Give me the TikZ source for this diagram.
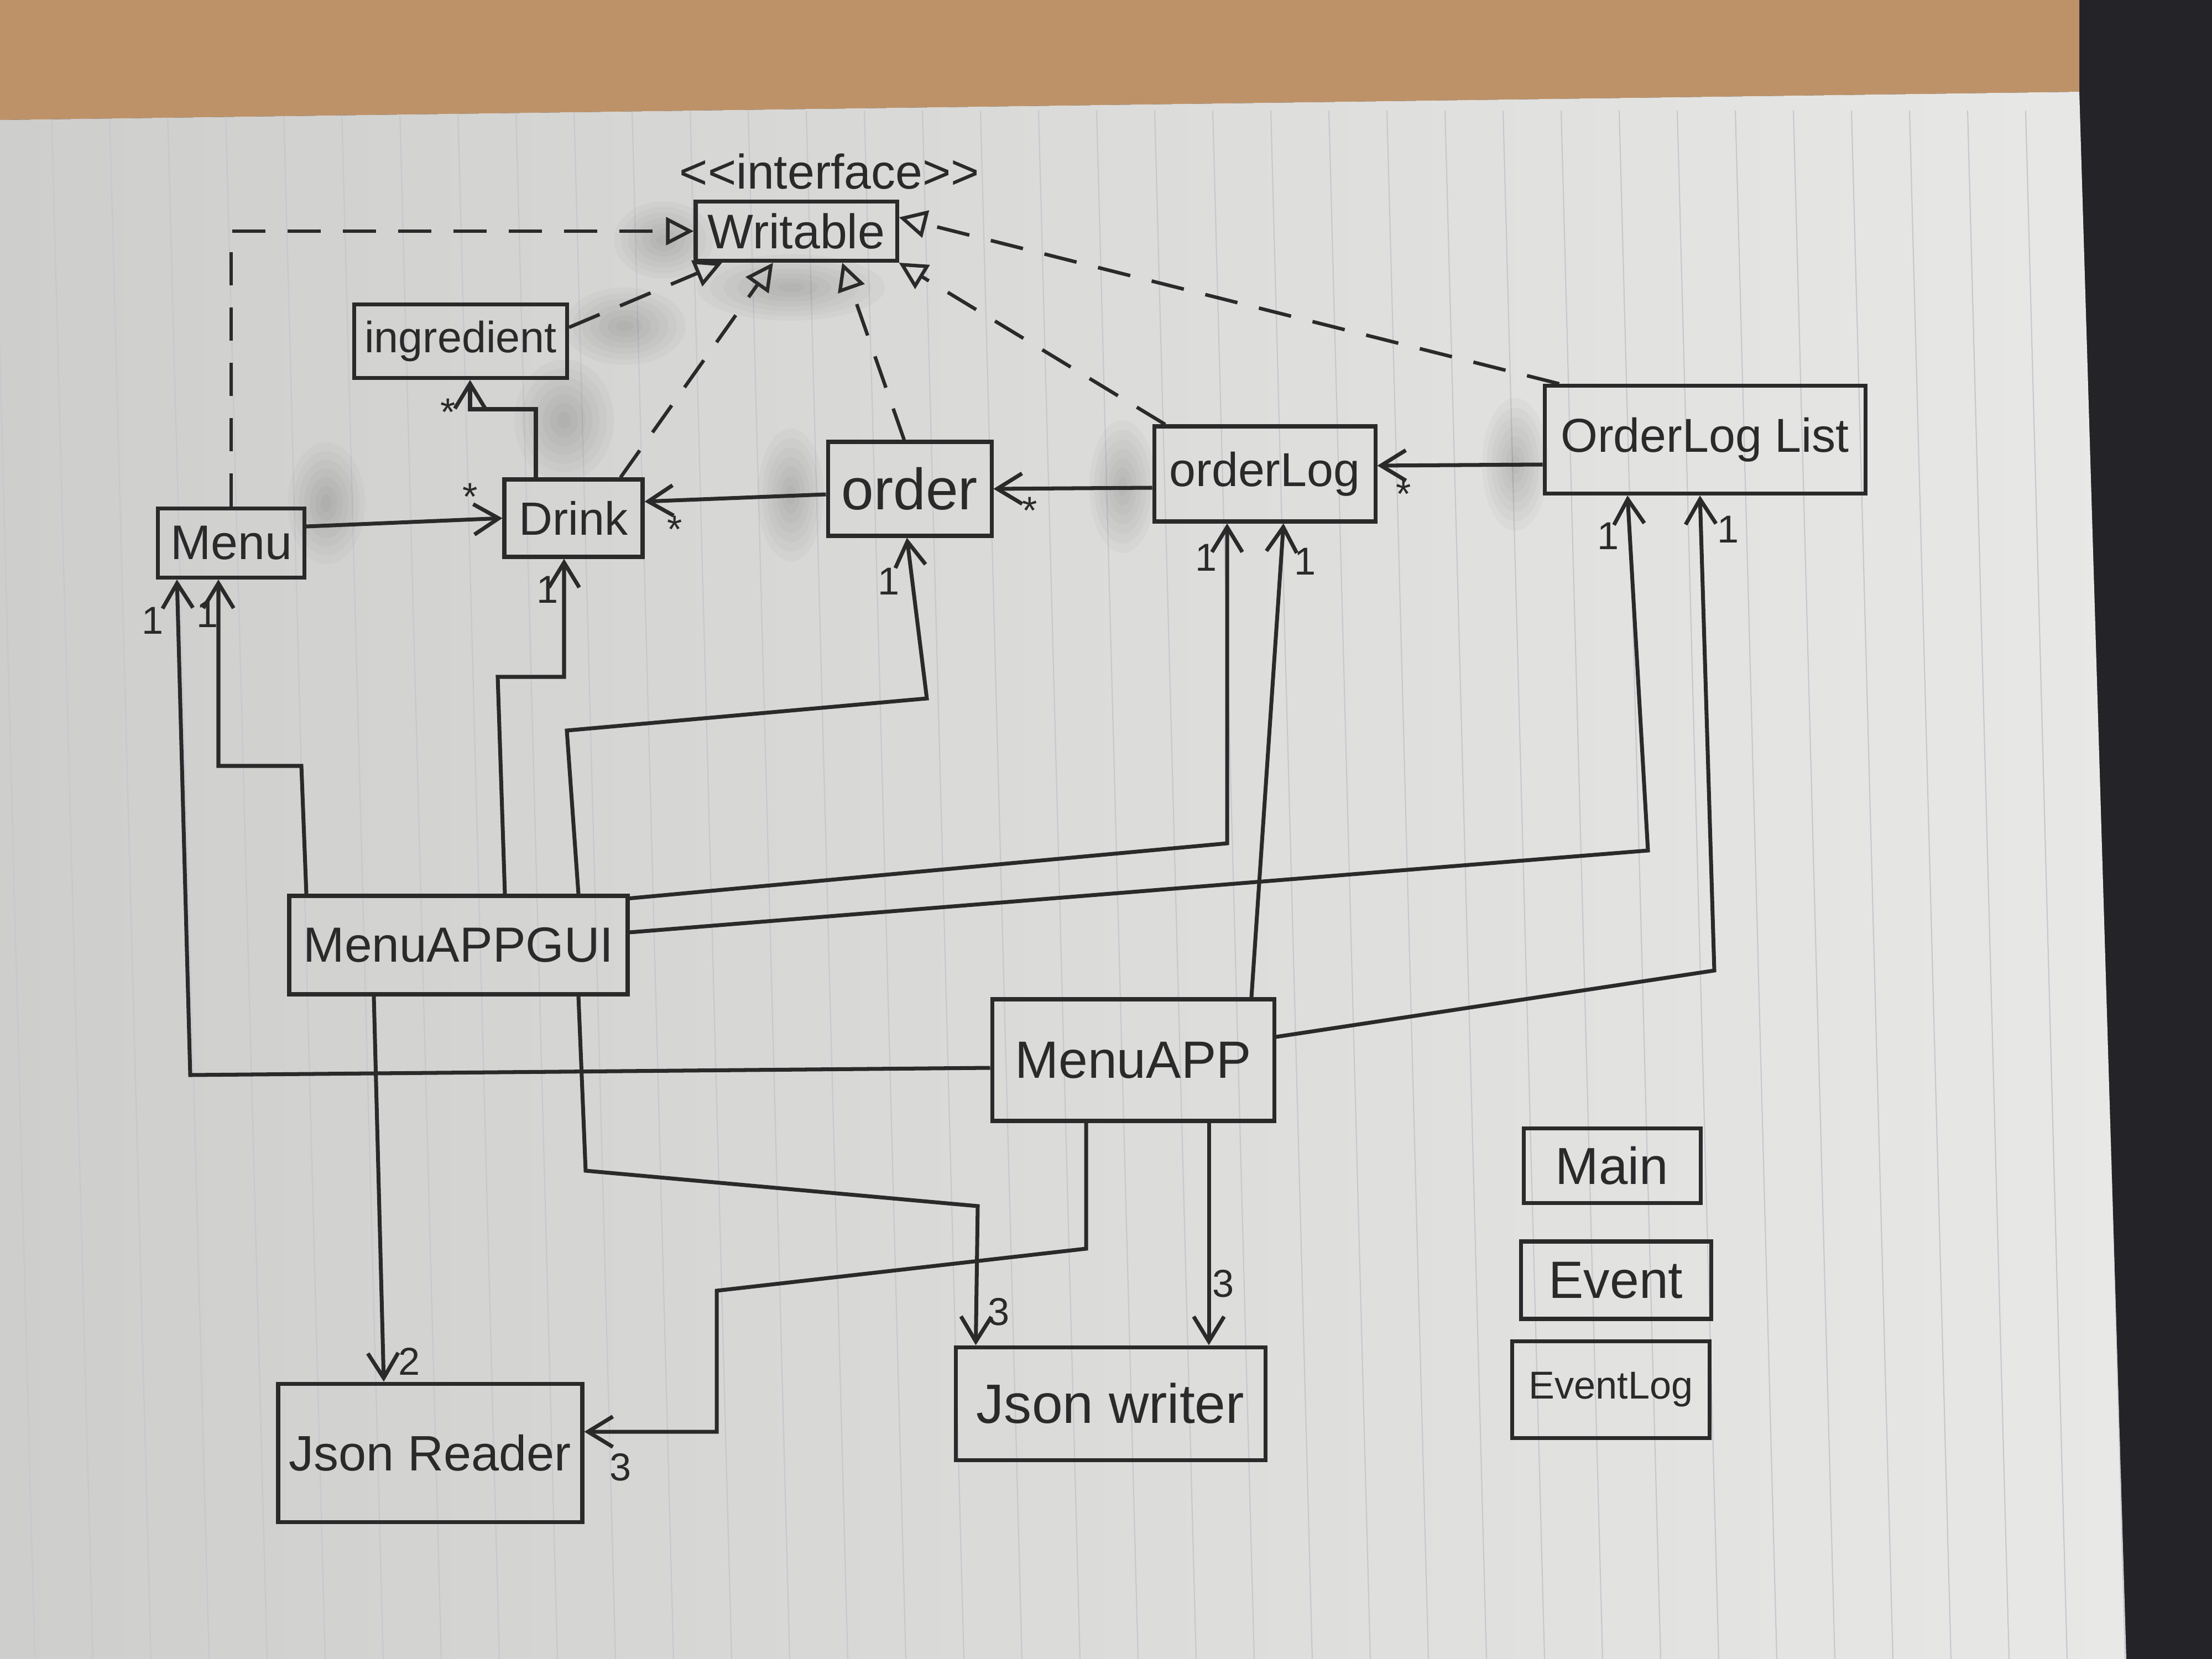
\documentclass[tikz,border=0pt]{standalone}
\usepackage{fontspec}
\setmainfont{Liberation Sans}
\usetikzlibrary{arrows.meta}
\definecolor{ink}{RGB}{42,42,42}
\definecolor{paperL}{RGB}{206,206,204}
\definecolor{paperR}{RGB}{232,232,230}
\definecolor{wood}{RGB}{190,146,104}
\definecolor{darkbg}{RGB}{36,36,40}
\definecolor{ruleline}{RGB}{198,200,208}
\newcommand\mysmudge[3]{\foreach \k in {1,...,7}{\fill[black,opacity=0.022] #1 ellipse ({#2*\k/7} and {#3*\k/7});}}
\begin{document}
\begin{tikzpicture}[x=1cm,y=-1cm,
  cls/.style={draw=ink, line width=2pt, text=ink, inner sep=0pt, font=\fontsize{25}{30}\selectfont},
  assoc/.style={draw=ink, line width=2pt, -{Straight Barb[length=4.5mm,width=5.5mm]}},
  realize/.style={draw=ink, line width=1.8pt, dash pattern=on 6mm off 4mm, -{Triangle[open,length=5mm,width=5mm]}},
  mult/.style={text=ink, font=\fontsize{20}{24}\selectfont, inner sep=0pt}
]
\useasboundingbox (0,0) rectangle (40,30);
% background
\fill[darkbg] (0,0) rectangle (40,30);
\fill[wood] (0,0) -- (37.6,0) -- (37.6,1.66) -- (0,2.17) -- cycle;
\shade[left color=paperL, right color=paperR] (0,2.17) -- (37.6,1.66) -- (38.45,30) -- (0,30) -- cycle;
\begin{scope}
\clip (0,2.17) -- (37.6,1.66) -- (38.45,30) -- (0,30) -- cycle;
\foreach \i in {0,...,37} {
  \draw[ruleline, line width=0.6pt] ({-0.12+1.05*\i},2) -- ({0.63+1.05*\i},30);
}
% smudges
\mysmudge{(12.0,4.34)}{0.9}{0.7}
\mysmudge{(5.9,9.1)}{0.7}{1.1}
\mysmudge{(14.3,8.95)}{0.6}{1.2}
\mysmudge{(20.3,8.8)}{0.6}{1.2}
\mysmudge{(27.4,8.4)}{0.6}{1.2}
\mysmudge{(10.2,7.6)}{0.9}{1.1}
\mysmudge{(11.3,5.9)}{1.1}{0.7}
\mysmudge{(14.3,5.2)}{1.7}{0.6}
\end{scope}

% classes
\node[text=ink, inner sep=0pt, font=\fontsize{25}{30}\selectfont] (iface) at (15.0,3.1) {<\kern0pt<interface>\kern0pt>};
\node[cls, minimum width=3.64cm, minimum height=1.07cm] (W) at (14.4,4.18) {Writable};
\node[cls, minimum width=3.85cm, minimum height=1.33cm, font=\fontsize{22.5}{27}\selectfont] (ing) at (8.33,6.17) {ingredient};
\node[cls, minimum width=2.65cm, minimum height=1.25cm] (menu) at (4.18,9.82) {Menu};
\node[cls, minimum width=2.5cm, minimum height=1.4cm, font=\fontsize{24}{28}\selectfont] (drink) at (10.37,9.37) {Drink};
\node[cls, minimum width=2.96cm, minimum height=1.7cm, font=\fontsize{30}{36}\selectfont] (order) at (16.45,8.84) {order};
\node[cls, minimum width=4.0cm, minimum height=1.72cm, font=\fontsize{24.5}{29}\selectfont] (olog) at (22.87,8.57) {orderLog};
\node[cls, minimum width=5.8cm, minimum height=1.95cm, font=\fontsize{24.5}{29}\selectfont] (olist) at (30.83,7.95) {OrderLog List};
\node[cls, minimum width=6.12cm, minimum height=1.78cm, font=\fontsize{25.4}{30}\selectfont] (gui) at (8.29,17.09) {MenuAPPGUI};
\node[cls, minimum width=5.1cm, minimum height=2.2cm, font=\fontsize{27}{32}\selectfont] (app) at (20.49,19.17) {MenuAPP};
\node[cls, minimum width=5.5cm, minimum height=2.5cm, font=\fontsize{25.6}{30}\selectfont] (jr) at (7.78,26.27) {Json Reader};
\node[cls, minimum width=5.6cm, minimum height=2.04cm, font=\fontsize{28.5}{34}\selectfont] (jw) at (20.08,25.38) {Json writer};
\node[cls, minimum width=3.2cm, minimum height=1.35cm, font=\fontsize{26.8}{32}\selectfont] (main) at (29.15,21.08) {Main};
\node[cls, minimum width=3.44cm, minimum height=1.4cm, font=\fontsize{27}{32}\selectfont] (event) at (29.22,23.15) {Event};
\node[cls, minimum width=3.57cm, minimum height=1.75cm, font=\fontsize{20}{24}\selectfont] (elog) at (29.13,25.13) {EventLog};

% realizations of Writable
\draw[realize] (menu.north) |- (W.west);
\draw[realize] ([yshift=0.25cm]ing.east) -- ([xshift=-1.34cm]W.south);
\draw[realize] ([xshift=0.85cm]drink.north) -- ([xshift=-0.42cm]W.south);
\draw[realize] ([xshift=-0.1cm]order.north) -- ([xshift=0.83cm]W.south);
\draw[realize] ([xshift=-1.8cm]olog.north) -- (W.south east);
\draw[realize] ([xshift=0.3cm]olist.north west) -- ([yshift=0.25cm]W.east);

% associations among domain classes
\draw[assoc] ([yshift=0.3cm]menu.east) -- (drink.west);
\node[mult] (m1) at (8.5,8.98) {*};
\draw[assoc] ([xshift=-0.68cm]drink.north) |- (8.5,7.4) -- ([xshift=0.17cm]ing.south);
\node[mult] (m2) at (8.1,7.45) {*};
\draw[assoc] ([yshift=-0.1cm]order.west) -- ([yshift=0.3cm]drink.east);
\node[mult] (m3) at (12.2,9.57) {*};
\draw[assoc] ([yshift=-0.25cm]olog.west) -- (order.east);
\node[mult] (m4) at (18.62,9.23) {*};
\draw[assoc] ([yshift=-0.45cm]olist.west) -- ([yshift=0.15cm]olog.east);
\node[mult] (m5) at (25.38,8.93) {*};

% MenuAPPGUI associations
\draw[assoc] ([xshift=-2.75cm]gui.north) -- (5.45,13.85) -| ([xshift=-0.23cm]menu.south);
\node[mult] (g1) at (3.75,11.1) {1};
\draw[assoc] ([xshift=0.84cm]gui.north) -- (9.0,12.24) -| ([xshift=-0.17cm]drink.south);
\node[mult] (g2) at (9.9,10.66) {1};
\draw[assoc] ([xshift=2.17cm]gui.north) -- (10.25,13.21) -- (16.76,12.63) -- ([xshift=-0.05cm]order.south);
\node[mult] (g3) at (16.07,10.51) {1};
\draw[assoc] ([xshift=2.17cm]gui.south) -- (10.59,21.17) -- (17.68,21.81) -- ([xshift=0.4cm]jw.north west);
\node[mult] (g4) at (18.06,23.72) {3};
\draw[assoc] ([xshift=-1.53cm]gui.south) -- ([xshift=-0.84cm]jr.north);
\node[mult] (g5) at (7.4,24.62) {2};
\draw[assoc] ([yshift=-0.08cm]gui.north east) -- (22.19,15.25) -- ([xshift=-0.68cm]olog.south);
\node[mult] (g6) at (21.81,10.08) {1};
\draw[assoc] ([yshift=0.23cm]gui.east) -- (29.8,15.38) -- ([xshift=-1.4cm]olist.south);
\node[mult] (g7) at (29.08,9.69) {1};

% MenuAPP associations
\draw[assoc] ([yshift=-0.14cm]app.west) -- (3.44,19.44) -- ([xshift=-0.98cm]menu.south);
\node[mult] (a1) at (2.76,11.22) {1};
\draw[assoc] ([xshift=2.14cm]app.north) -- ([xshift=0.34cm]olog.south);
\node[mult] (a2) at (23.6,10.15) {1};
\draw[assoc] ([yshift=0.42cm]app.east) -- (31.0,17.55) -- ([xshift=-0.09cm]olist.south);
\node[mult] (a3) at (31.25,9.57) {1};
\draw[assoc] ([xshift=-0.85cm]app.south) -- (19.64,22.58) -- (12.96,23.34) -- (12.96,25.89) -- ([yshift=0.38cm]jr.east);
\node[mult] (a4) at (11.22,26.53) {3};
\draw[assoc] ([xshift=1.37cm]app.south) -- ([xshift=1.78cm]jw.north);
\node[mult] (a5) at (22.12,23.21) {3};
\end{tikzpicture}
\end{document}
